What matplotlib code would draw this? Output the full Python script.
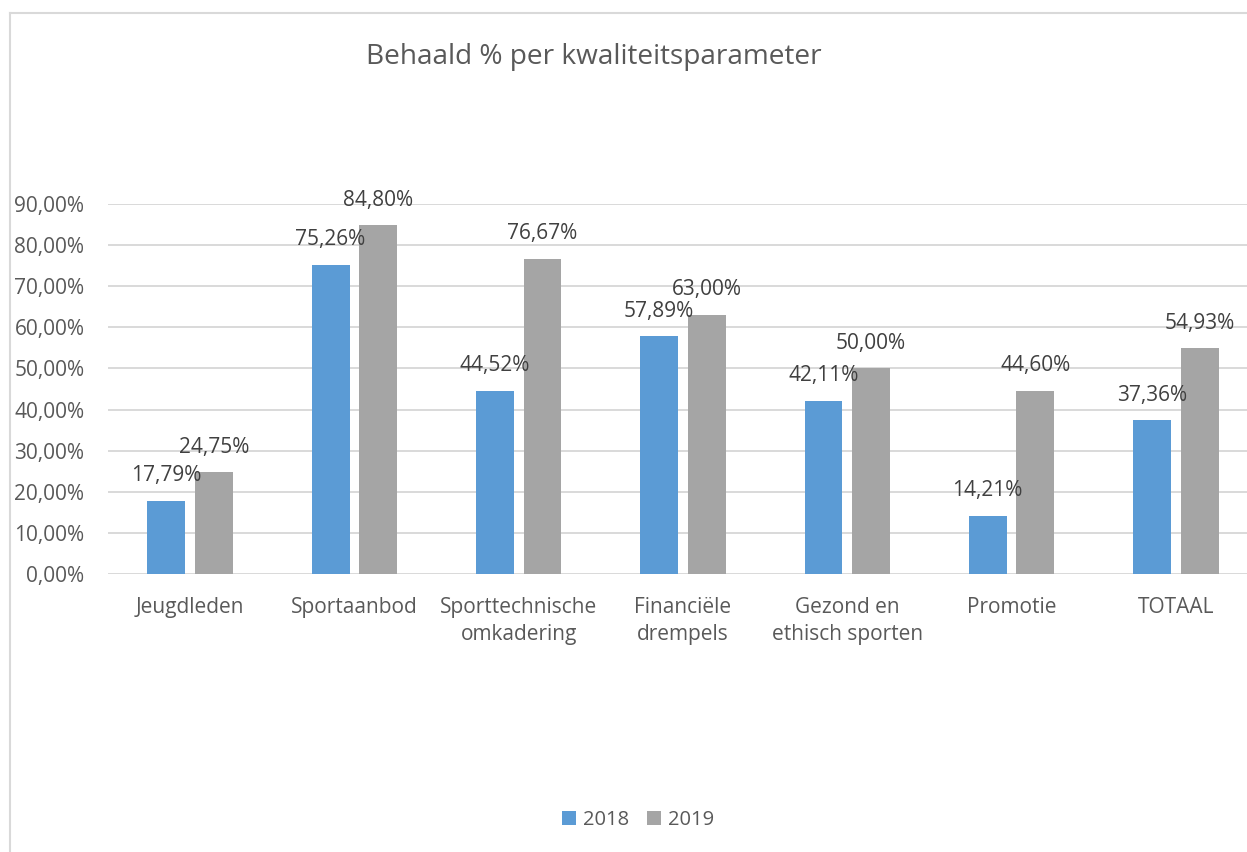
import matplotlib
matplotlib.use('Agg')
import matplotlib.pyplot as plt
from matplotlib.lines import Line2D
import numpy as np

categories = ['Jeugdleden', 'Sportaanbod', 'Sporttechnische\nomkadering', 'Financiële\ndrempels',
              'Gezond en\nethisch sporten', 'Promotie', 'TOTAAL']
values_2018 = [17.79, 75.26, 44.52, 57.89, 42.11, 14.21, 37.36]
values_2019 = [24.75, 84.80, 76.67, 63.00, 50.00, 44.60, 54.93]
series_names = ['2018', '2019']
yticks = [0, 10, 20, 30, 40, 50, 60, 70, 80, 90]

plt.rcParams['font.family'] = ['Open Sans', 'DejaVu Sans']
text_col = '#595959'
grid_col = '#d9d9d9'
fs = 15

W, H = 1247, 852
fig = plt.figure(figsize=(W / 100, H / 100), dpi=100)

# plot area in pixels: x 108..1258 (runs off the right edge), y 204..574
ax = fig.add_axes([108 / W, 1 - 574 / H, (1258 - 108) / W, (574 - 204) / H])

x = np.arange(len(categories))
bw = 0.23
off = 0.145
b1 = ax.bar(x - off, values_2018, bw, color='#5B9BD5', label=series_names[0], zorder=3)
b2 = ax.bar(x + off, values_2019, bw, color='#A5A5A5', label=series_names[1], zorder=3)

def fmt(v):
    return f'{v:.2f}%'.replace('.', ',')

for bars, vals in [(b1, values_2018), (b2, values_2019)]:
    for rect, v in zip(bars, vals):
        ax.annotate(fmt(v), (rect.get_x() + rect.get_width() / 2, v),
                    xytext=(0, 18), textcoords='offset points',
                    ha='center', va='center', fontsize=fs, color='#404040', zorder=4)

ax.set_xlim(-0.5, len(categories) - 0.5)
ax.set_ylim(0, 90)
ax.set_yticks(yticks)
ax.set_yticklabels([fmt(t) for t in yticks], fontsize=fs, color=text_col)
ax.set_xticks(x)
ax.set_xticklabels(categories, fontsize=fs, color=text_col, linespacing=1.4)
ax.tick_params(axis='both', length=0)
ax.tick_params(axis='y', pad=17)
ax.tick_params(axis='x', pad=16.5)
ax.grid(axis='y', color=grid_col, linewidth=1.4, zorder=0)
for s in ax.spines.values():
    s.set_visible(False)

fig.text(594 / W, 1 - 57 / H, 'Behaald % per kwaliteitsparameter', ha='center', va='center',
         fontsize=20.2, color=text_col)

leg = fig.legend(loc='center', bbox_to_anchor=(638 / W, 1 - 820 / H), ncol=2, frameon=False,
                 fontsize=14.5, handlelength=0.7, handleheight=0.7, handletextpad=0.35,
                 columnspacing=0.9)
for t in leg.get_texts():
    t.set_color(text_col)

# chart border (left and top, cut off elsewhere)
fig.add_artist(Line2D([10 / W, 10 / W], [0, 1 - 13 / H], color=grid_col, linewidth=1.5))
fig.add_artist(Line2D([10 / W, 1], [1 - 13 / H, 1 - 13 / H], color=grid_col, linewidth=1.5))

fig.savefig('out.png', dpi=100)
